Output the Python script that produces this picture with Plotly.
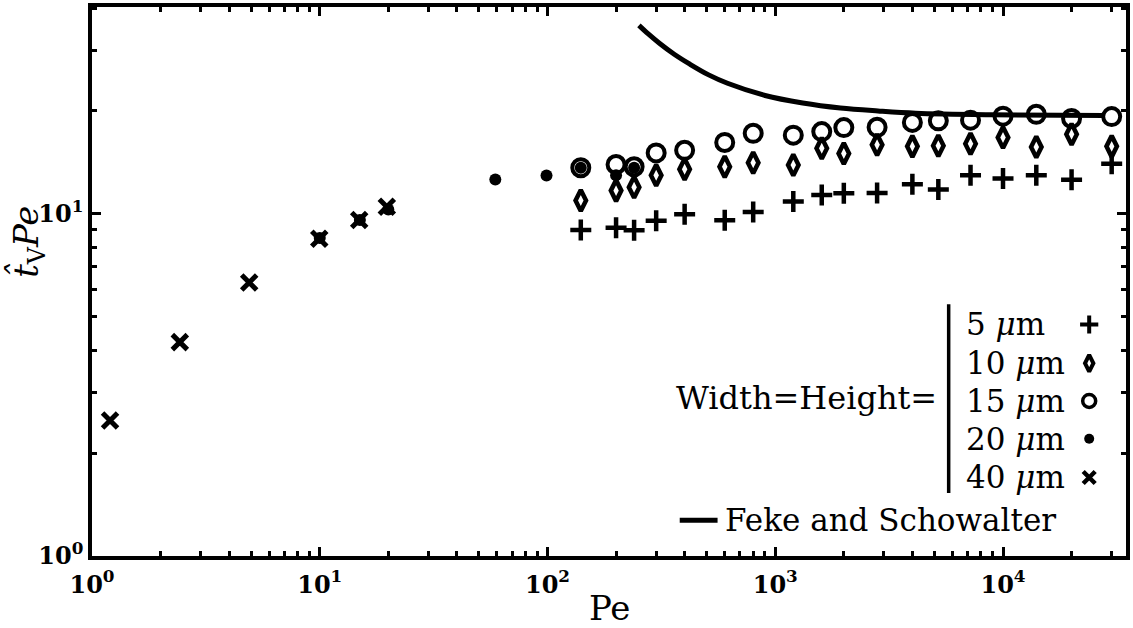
import plotly.graph_objects as go

# ---------------- data ----------------
pe_main = [140, 200, 240, 300, 400, 600, 800, 1200, 1600, 2000, 2800, 4000, 5200, 7200,
           10000, 14000, 20000, 30000]
w5_vals = [8.98, 9.11, 8.96, 9.55, 9.98, 9.59, 10.13, 10.87, 11.36, 11.49, 11.52, 12.22,
           11.78, 12.97, 12.69, 12.97, 12.58, 14.02]
w10_vals = [10.95, 11.70, 11.96, 12.97, 13.50, 13.74, 14.11, 13.90, 15.55, 15.01, 15.93,
            15.76, 15.83, 16.04, 16.72, 15.69, 17.10, 15.76]
w15_vals = [13.65, 13.95, 13.74, 15.08, 15.35, 16.18, 17.21, 16.99, 17.41, 17.88, 17.92,
            18.52, 18.72, 18.80, 19.31, 19.56, 19.01, 19.26]
w20_pe = [10, 15, 20, 59, 99, 140, 200, 240]
w20_vals = [8.5, 9.6, 10.3, 12.6, 12.95, 13.65, 12.97, 13.65]
w40_pe = [1.2, 2.43, 4.9, 9.95, 14.9, 19.7]
w40_vals = [2.49, 4.22, 6.3, 8.46, 9.6, 10.5]

fs_pe = [252, 277, 311, 360, 422, 510, 617, 902, 1320, 1932, 2826, 4137, 8858, 27700]
fs_vals = [35.6, 33.6, 31.5, 29.3, 27.4, 25.5, 24.1, 22.2, 21.1, 20.4, 20.0, 19.7, 19.5, 19.4]

legend_labels = ["5 <i>μ</i>m", "10 <i>μ</i>m", "15 <i>μ</i>m", "20 <i>μ</i>m", "40 <i>μ</i>m"]
x_tickvals = [1, 10, 100, 1000, 10000]
x_ticktext = ["10<sup>0</sup>", "10<sup>1</sup>", "10<sup>2</sup>", "10<sup>3</sup>", "10<sup>4</sup>"]
y_tickvals = [1, 10]
y_ticktext = ["10<sup>0</sup>", "10<sup>1</sup>"]

# ---------------- styles ----------------
SERIF = "DejaVu Serif"
BLACK = "#000000"
styles = [
    dict(symbol="cross-thin", size=15, line=dict(width=4.5, color=BLACK), color=BLACK),
    dict(symbol="diamond-tall-open", size=15, line=dict(width=4.5, color=BLACK), color=BLACK),
    dict(symbol="circle-open", size=17, line=dict(width=4, color=BLACK), color=BLACK),
    dict(symbol="circle", size=12, line=dict(width=0, color=BLACK), color=BLACK),
    dict(symbol="x-thin", size=15, line=dict(width=5, color=BLACK), color=BLACK),
]
legend_styles = [
    dict(symbol="cross-thin", size=13, line=dict(width=4, color=BLACK), color=BLACK),
    dict(symbol="diamond-tall-open", size=12, line=dict(width=4, color=BLACK), color=BLACK),
    dict(symbol="circle-open", size=13, line=dict(width=3.5, color=BLACK), color=BLACK),
    dict(symbol="circle", size=10, line=dict(width=0, color=BLACK), color=BLACK),
    dict(symbol="x-thin", size=12, line=dict(width=4.5, color=BLACK), color=BLACK),
]

fig = go.Figure()

series = [(pe_main, w5_vals), (pe_main, w10_vals), (pe_main, w15_vals),
          (w20_pe, w20_vals), (w40_pe, w40_vals)]
for (xs, ys), st in zip(series, styles):
    fig.add_trace(go.Scatter(x=xs, y=ys, mode="markers", marker=st,
                             showlegend=False, hoverinfo="skip"))

fig.add_trace(go.Scatter(x=fs_pe, y=fs_vals, mode="lines",
                         line=dict(color=BLACK, width=5, shape="spline", smoothing=1.0),
                         showlegend=False, hoverinfo="skip"))

# ---------------- custom legend ----------------
leg_y = [0.4217, 0.3511, 0.2824, 0.2136, 0.1430]
leg_text_x = 0.843
leg_mark_x = 0.9644
for yy, st in zip(leg_y, legend_styles):
    fig.add_trace(go.Scatter(x=[leg_mark_x], y=[yy], mode="markers", marker=st,
                             xaxis="x2", yaxis="y2", showlegend=False, hoverinfo="skip"))

annotations = []
for yy, lab in zip(leg_y, legend_labels):
    annotations.append(dict(x=leg_text_x, y=yy, xref="paper", yref="paper", text=lab,
                            showarrow=False, xanchor="left", yanchor="middle",
                            font=dict(family=SERIF, size=31, color=BLACK)))
annotations.append(dict(x=0.8189, y=0.2878, xref="paper", yref="paper",
                        text="Width=Height=", showarrow=False, xanchor="right",
                        yanchor="middle", font=dict(family=SERIF, size=32, color=BLACK)))
annotations.append(dict(x=0.6098, y=0.0652, xref="paper", yref="paper",
                        text="Feke and Schowalter", showarrow=False, xanchor="left",
                        yanchor="middle", font=dict(family=SERIF, size=31, color=BLACK)))
# axis titles
annotations.append(dict(x=0.5, y=-0.095, xref="paper", yref="paper", text="Pe",
                        showarrow=False, xanchor="center", yanchor="middle",
                        font=dict(family=SERIF, size=34, color=BLACK)))
annotations.append(dict(x=-0.062, y=0.572, xref="paper", yref="paper",
                        text="<i>t̂</i><sub>V</sub><i>Pe</i>", textangle=-90,
                        showarrow=False, xanchor="center", yanchor="middle",
                        font=dict(family=SERIF, size=34, color=BLACK)))

shapes = [
    dict(type="line", xref="paper", yref="paper", x0=0.8285, x1=0.8285, y0=0.1146,
         y1=0.4585, line=dict(color=BLACK, width=3.5)),
    dict(type="line", xref="paper", yref="paper", x0=0.5684, x1=0.6050, y0=0.0652,
         y1=0.0652, line=dict(color=BLACK, width=5)),
]

minor_x = [m * 10 ** d for d in range(0, 5) for m in range(2, 10)]
minor_y = [m * 10 ** d for d in range(0, 2) for m in range(2, 10)]

axis_common = dict(
    showline=True, linewidth=3.5, linecolor=BLACK, mirror="allticks",
    ticks="inside", ticklen=9, tickwidth=3, tickcolor=BLACK,
    showgrid=False, zeroline=False,
    tickfont=dict(family=SERIF, size=24, color=BLACK, weight="bold"),
)

fig.update_layout(
    width=1133, height=628,
    margin=dict(l=92, r=3, t=4, b=72),
    paper_bgcolor="white", plot_bgcolor="white",
    showlegend=False,
    xaxis=dict(type="log", range=[0, 4.54], tickmode="array", tickvals=x_tickvals,
               ticktext=x_ticktext, ticklabelstandoff=4,
               minor=dict(tickmode="array", tickvals=minor_x, ticks="inside", ticklen=5,
                          tickwidth=2.5, tickcolor=BLACK, showgrid=False),
               **axis_common),
    yaxis=dict(type="log", range=[0, 1.605], tickmode="array", tickvals=y_tickvals,
               ticktext=y_ticktext,
               minor=dict(tickmode="array", tickvals=minor_y, ticks="inside", ticklen=5,
                          tickwidth=2.5, tickcolor=BLACK, showgrid=False),
               **axis_common),
    xaxis2=dict(overlaying="x", range=[0, 1], visible=False, fixedrange=True),
    yaxis2=dict(overlaying="y", range=[0, 1], visible=False, fixedrange=True),
    annotations=annotations,
    shapes=shapes,
)

fig.write_html("out.html")
